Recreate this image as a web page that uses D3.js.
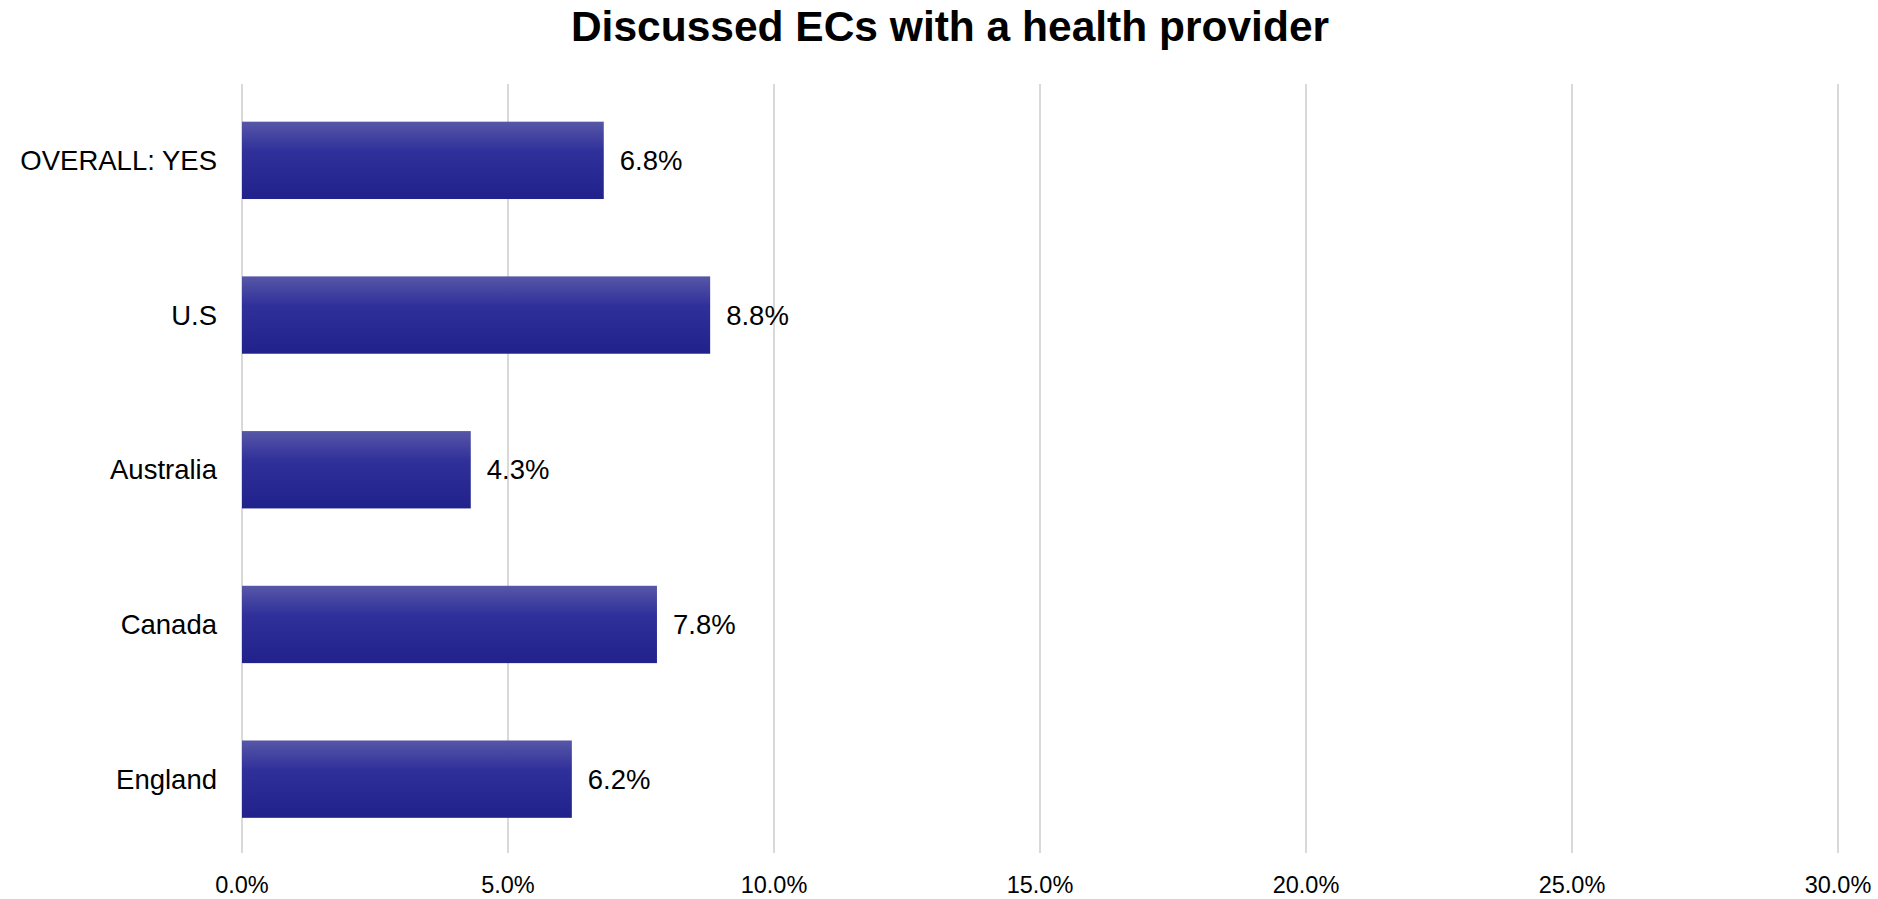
<!DOCTYPE html>
<html>
<head>
<meta charset="utf-8">
<script src="https://cdn.jsdelivr.net/npm/d3@7"></script>
<style>
  html, body { margin: 0; padding: 0; background: #ffffff; }
  svg { display: block; font-family: "Liberation Sans", Arial, sans-serif; }
</style>
</head>
<body>
<svg id="chart" width="1878" height="899"></svg>
<script>
// Share of respondents who discussed ECs with a health provider
const categories = ["OVERALL: YES", "U.S", "Australia", "Canada", "England"];
const values = [6.8, 8.8, 4.3, 7.8, 6.2];
const tickValues = [0, 5, 10, 15, 20, 25, 30];
const title = "Discussed ECs with a health provider";

const width = 1878, height = 899;
const margin = { top: 83, right: 40, bottom: 43, left: 242 };

const svg = d3.select("#chart");

const x = d3.scaleLinear()
  .domain([0, 30])
  .range([margin.left, 1838]);

const y = d3.scaleBand()
  .domain(categories)
  .range([margin.top, height - margin.bottom + 0.5])
  .paddingInner(0.5)
  .paddingOuter(0.25);

// Bar fill: lighter band at the top fading into deep indigo
const defs = svg.append("defs");
const grad = defs.append("linearGradient")
  .attr("id", "barFill")
  .attr("x1", 0).attr("y1", 0).attr("x2", 0).attr("y2", 1);
grad.append("stop").attr("offset", "0%").attr("stop-color", "#5757a7");
grad.append("stop").attr("offset", "38%").attr("stop-color", "#30309b");
grad.append("stop").attr("offset", "100%").attr("stop-color", "#21218b");

// Vertical gridlines
svg.append("g")
  .selectAll("line")
  .data(tickValues)
  .join("line")
  .attr("x1", d => x(d)).attr("x2", d => x(d))
  .attr("y1", 84).attr("y2", 853)
  .attr("stroke", "#d9d9d9")
  .attr("stroke-width", 2);

// X axis tick labels
svg.append("g")
  .selectAll("text")
  .data(tickValues)
  .join("text")
  .attr("x", d => x(d))
  .attr("y", 893)
  .attr("text-anchor", "middle")
  .attr("font-size", 23.5)
  .attr("fill", "#000")
  .text(d => d3.format(".1f")(d) + "%");

// Bars
svg.append("g")
  .selectAll("rect")
  .data(categories)
  .join("rect")
  .attr("x", x(0))
  .attr("y", d => y(d))
  .attr("width", (d, i) => x(values[i]) - x(0))
  .attr("height", y.bandwidth())
  .attr("fill", "url(#barFill)");

// Category labels
svg.append("g")
  .selectAll("text")
  .data(categories)
  .join("text")
  .attr("x", x(0) - 25)
  .attr("y", d => y(d) + y.bandwidth() / 2)
  .attr("dy", "0.35em")
  .attr("text-anchor", "end")
  .attr("font-size", 27.5)
  .attr("fill", "#000")
  .text(d => d);

// Value labels
svg.append("g")
  .selectAll("text")
  .data(categories)
  .join("text")
  .attr("x", (d, i) => x(values[i]) + 16)
  .attr("y", d => y(d) + y.bandwidth() / 2)
  .attr("dy", "0.35em")
  .attr("font-size", 27.5)
  .attr("fill", "#000")
  .text((d, i) => d3.format(".1f")(values[i]) + "%");

// Title
svg.append("text")
  .attr("x", 950)
  .attr("y", 41)
  .attr("text-anchor", "middle")
  .attr("font-size", 42.5)
  .attr("font-weight", "bold")
  .attr("fill", "#000")
  .text(title);
</script>
</body>
</html>
